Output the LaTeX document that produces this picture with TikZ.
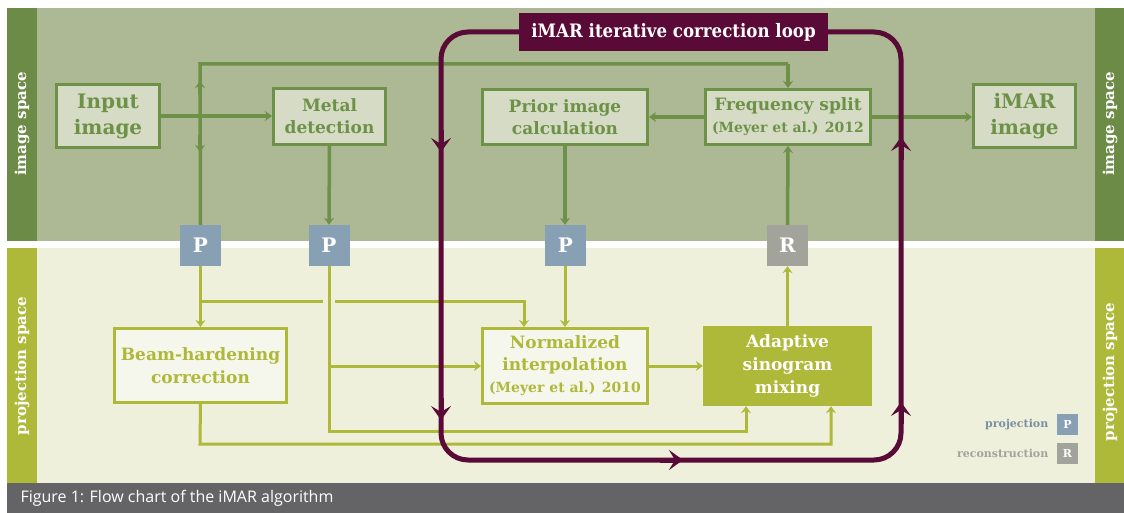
\documentclass[tikz,border=0pt]{standalone}
\usepackage{fontspec}
\setmainfont{DejaVu Serif}
\newfontfamily\condfont{DejaVu Serif}[FakeStretch=0.9]
\newfontfamily\capfont{Open Sans}
\usetikzlibrary{arrows.meta}
\definecolor{topbg}{HTML}{ADB894}
\definecolor{dkgreen}{HTML}{6B8B46}
\definecolor{gline}{HTML}{6E9148}
\definecolor{gfill}{HTML}{D5DBC4}
\definecolor{botbg}{HTML}{EEF0DC}
\definecolor{lime}{HTML}{AEB839}
\definecolor{lfill}{HTML}{F6F7EC}
\definecolor{pblue}{HTML}{87A0B4}
\definecolor{rgray}{HTML}{A2A49B}
\definecolor{maroon}{HTML}{5A0A37}
\definecolor{capgray}{HTML}{646466}
\tikzset{
  gtip/.tip={Stealth[length=7pt,width=10pt,inset=2.5pt]},
  mtip/.tip={Stealth[length=14pt,width=20pt,inset=6pt]},
  topbox/.style={draw=gline, line width=3pt, fill=gfill, text=gline, align=center, inner sep=0pt, font=\bfseries\fontsize{17}{22}\selectfont},
  botbox/.style={draw=lime, line width=3pt, fill=lfill, text=lime, align=center, inner sep=0pt, font=\bfseries\fontsize{17}{23}\selectfont},
  pbox/.style={fill=pblue, text=white, minimum width=41pt, minimum height=41pt, inner sep=0pt, font=\bfseries\fontsize{20}{20}\selectfont},
  rbox/.style={pbox, fill=rgray},
  gline/.style={draw=gline, line width=3.5pt},
  garr/.style={gline, -gtip},
  lline/.style={draw=lime, line width=3pt},
  larr/.style={lline, -gtip},
  loopline/.style={draw=maroon, line width=5pt},
  striptext/.style={text=white, rotate=90, font=\bfseries\fontsize{15}{15}\selectfont},
  legtext/.style={anchor=east, font=\bfseries\fontsize{11}{11}\selectfont},
  legbox/.style={minimum width=21pt, minimum height=21pt, inner sep=0pt, text=white, font=\bfseries\fontsize{11}{11}\selectfont},
  small/.style={font=\bfseries\fontsize{14}{17}\selectfont},
}
\newcommand{\refsize}{\fontsize{14}{17}\selectfont}
\begin{document}
\begin{tikzpicture}[x=1pt,y=-1pt]
\useasboundingbox (0,0) rectangle (1124,513);
\fill[white] (0,0) rectangle (1124,513);
% bands
\fill[topbg] (37,8) rectangle (1095,241);
\fill[dkgreen] (7,8) rectangle (37,241);
\fill[dkgreen] (1095,8) rectangle (1124,241);
\fill[botbg] (37,248) rectangle (1095,483);
\fill[lime] (7,248) rectangle (37,483);
\fill[lime] (1095,248) rectangle (1124,483);
\fill[capgray] (7,483) rectangle (1124,513);
\node[striptext] (ls1) at (22,124) {image space};
\node[striptext] (rs1) at (1110,124) {image space};
\node[striptext] (ls2) at (22,366) {projection space};
\node[striptext] (rs2) at (1110,372) {projection space};
\node[anchor=west, text=white, font=\capfont\fontsize{16}{16}\selectfont] (cap) at (17,498) {Figure 1: Flow chart of the iMAR algorithm};

% top boxes
\node[topbox, minimum width=103pt, minimum height=63pt, font=\bfseries\fontsize{20}{26}\selectfont] (inp) at (108,116) {Input\\image};
\node[topbox, minimum width=112pt, minimum height=56pt] (metal) at (329.5,116.5) {Metal\\detection};
\node[topbox, minimum width=165pt, minimum height=55pt] (prior) at (565,117) {Prior image\\calculation};
\node[topbox, minimum width=165pt, minimum height=55pt] (freq) at (788,117) {Frequency split\\{\refsize(Meyer et al.) 2012}};
\node[topbox, minimum width=102pt, minimum height=63pt, font=\bfseries\fontsize{20}{26}\selectfont] (imar) at (1024.5,116) {iMAR\\image};

% bottom boxes
\node[botbox, minimum width=172pt, minimum height=74pt] (beam) at (200.5,365.5) {Beam-hardening\\correction};
\node[botbox, minimum width=165pt, minimum height=75pt, font=\bfseries\fontsize{17}{22}\selectfont] (norm) at (565,366) {Normalized\\interpolation\\{\refsize(Meyer et al.) 2010}};
\node[fill=lime, text=white, align=center, inner sep=0pt, minimum width=169pt, minimum height=80pt, font=\bfseries\fontsize{17}{23}\selectfont] (adapt) at (787.5,366) {Adaptive\\sinogram\\mixing};

% P / R boxes
\node[pbox] (p1) at (200.5,245.5) {P};
\node[pbox] (p2) at (329,245.5) {P};
\node[pbox] (p3) at (565.5,245.5) {P};
\node[rbox] (r1) at (787.5,245.5) {R};

% legend
\node[legbox, fill=pblue] (lp) at (1067.5,424.5) {P};
\node[legbox, fill=rgray] (lr) at (1067.5,453.5) {R};
\node[legtext, text=pblue!90!black] (lpt) at ([xshift=-5pt]lp.west) {projection};
\node[legtext, text=rgray] (lrt) at ([xshift=-5pt]lr.west) {reconstruction};

% green connectors (image space)
\coordinate (tl) at (200,64);
\coordinate (tr) at (788,64);
\draw[gline] (p1.north) -- (tl) -- (tr);
\draw[garr] (tr) -- (freq.north);
\draw[gline, -gtip] (200,95) -- (200,81);
\draw[gline, -gtip] (200,135) -- (200,152);
\draw[garr] (inp.east) -- (inp.east -| metal.west);
\draw[garr] (metal.south) -- (p2.north);
\draw[garr] (freq.west) -- (prior.east);
\draw[garr] (freq.east) -- (freq.east -| imar.west);
\draw[garr] (r1.north) -- (freq.south);
\draw[garr] (prior.south) -- (p3.north -| prior.south);

% lime connectors (projection space)
\coordinate (b1) at (200,301);
\coordinate (g1) at (323,301);
\coordinate (g2) at (335,301);
\coordinate (b2) at (524,301);
\draw[larr] (p1.south) -- (beam.north);
\draw[lline] (b1) -- (g1);
\draw[larr] (g2) -- (b2) -- (b2 |- norm.north);
\coordinate (c1) at (329,431);
\coordinate (c2) at (746,431);
\draw[larr] (p2.south) -- (c1) -- (c2) -- (c2 |- adapt.south);
\coordinate (c3) at (329,366);
\draw[larr] (c3) -- (norm.west);
\draw[larr] (p3.south -| norm.north) -- (norm.north);
\coordinate (d1) at (200,444);
\coordinate (d2) at (831,444);
\draw[larr] (beam.south) -- (d1) -- (d2) -- (d2 |- adapt.south);
\draw[larr] (norm.east) -- (norm.east -| adapt.west);
\draw[larr] (adapt.north) -- (r1.south);

% loop
\node[fill=maroon, text=white, minimum width=309pt, minimum height=38pt, inner sep=0pt, font=\condfont\bfseries\fontsize{18.5}{20}\selectfont] (loop) at (673.5,32) {iMAR iterative correction loop};
\coordinate (lp1) at (441,32);
\coordinate (lp2) at (441,460);
\coordinate (lp3) at (901,460);
\coordinate (lp4) at (901,32);
\draw[loopline, rounded corners=27pt] (loop.west) -- (lp1) -- (lp2) -- (lp3) -- (lp4) -- (loop.east);
\draw[loopline, -mtip] (441,130) -- (441,152);
\draw[loopline, -mtip] (441,398) -- (441,420);
\draw[loopline, -mtip] (901,160) -- (901,137);
\draw[loopline, -mtip] (901,424) -- (901,402);
\draw[loopline, -mtip] (660,460) -- (683,460);
\end{tikzpicture}
\end{document}
